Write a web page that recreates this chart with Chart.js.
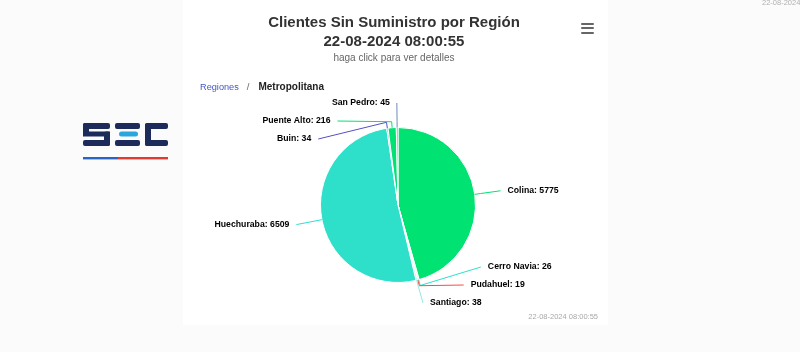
<!DOCTYPE html>
<html>
<head>
<meta charset="utf-8">
<script src="https://cdn.jsdelivr.net/npm/chart.js@4.4.1/dist/chart.umd.min.js"></script>
<style>
  html, body { margin:0; padding:0; }
  body { width:800px; height:352px; background:#fbfbfb; position:relative; overflow:hidden; font-family:"Liberation Sans", Arial, sans-serif; }
  #box { position:absolute; left:183px; top:0; width:425px; height:325px; background:#fff; }
  #c { position:absolute; left:0; top:0; }
  .t { position:absolute; white-space:nowrap; }
  #title { left:183px; width:422px; top:12px; text-align:center; font-weight:bold; font-size:15px; line-height:19px; color:#333; }
  #subtitle { left:183px; width:422px; top:52px; text-align:center; font-size:10px; line-height:12px; color:#666; }
  #crumbs { left:200px; top:81px; font-size:10px; line-height:12px; }
  #crumbs .a { color:#4257c9; font-size:9.2px; }
  #crumbs .s { color:#666; margin:0 9px 0 8px; font-size:9.5px; }
  #crumbs .b { color:#222; font-weight:bold; }
  .bar { position:absolute; left:581px; width:13px; height:2.4px; background:#666; border-radius:1px; }
  #stamp { left:450px; width:148px; text-align:right; top:312px; font-size:7.5px; line-height:10px; color:#a8a8a8; }
  #stamp2 { left:762px; top:-2px; font-size:7.5px; line-height:10px; color:#b0b0b0; }
  #logo { position:absolute; left:82px; top:122px; }
</style>
</head>
<body>
<div id="box"></div>
<svg id="logo" width="88" height="40" viewBox="0 0 88 40">
  <!-- S -->
  <rect x="1" y="1" width="27" height="6" rx="2" fill="#1d2b5a"/>
  <rect x="1" y="1" width="6" height="13" rx="2" fill="#1d2b5a"/>
  <rect x="1" y="9.5" width="27" height="5" fill="#1d2b5a"/>
  <rect x="22" y="9.5" width="6" height="14.5" rx="2" fill="#1d2b5a"/>
  <rect x="1" y="18" width="27" height="6" rx="2" fill="#1d2b5a"/>
  <!-- E -->
  <rect x="33" y="1" width="25" height="6" rx="2" fill="#1d2b5a"/>
  <rect x="37" y="9.5" width="19" height="5" rx="2.5" fill="#2aa6dd"/>
  <rect x="33" y="18" width="25" height="6" rx="2" fill="#1d2b5a"/>
  <!-- C -->
  <rect x="63" y="1" width="23" height="6" rx="2" fill="#1d2b5a"/>
  <rect x="63" y="1" width="6" height="23" rx="2.5" fill="#1d2b5a"/>
  <rect x="63" y="18" width="23" height="6" rx="2" fill="#1d2b5a"/>
  <!-- underline -->
  <rect x="1" y="35" width="35" height="2.4" fill="#2c63c7"/>
  <rect x="36" y="35" width="50" height="2.4" fill="#e23b32"/>
</svg>
<canvas id="c" width="800" height="352"></canvas>
<div class="t" id="title">Clientes Sin Suministro por Región<br>22-08-2024 08:00:55</div>
<div class="t" id="subtitle">haga click para ver detalles</div>
<div class="t" id="crumbs"><span class="a">Regiones</span><span class="s">/</span><span class="b">Metropolitana</span></div>
<div class="bar" style="top:22.5px"></div>
<div class="bar" style="top:27px"></div>
<div class="bar" style="top:31.5px"></div>
<div class="t" id="stamp">22-08-2024 08:00:55</div>
<div class="t" id="stamp2">22-08-2024</div>
<script>
const comunas = ["Colina", "Cerro Navia", "Pudahuel", "Santiago", "Huechuraba", "Buin", "Puente Alto", "San Pedro"];
const clientes = [5775, 26, 19, 38, 6509, 34, 216, 45];
const colores = ["#00e272", "#2ee0ca", "#fa4b42", "#91e8e1", "#2ee0ca", "#544fc5", "#00e272", "#6b8abc"];

const pieLabels = {
  id: 'pieLabels',
  afterDatasetsDraw(chart, args, opts) {
    const ctx = chart.ctx;
    const meta = chart.getDatasetMeta(0);
    const ds = chart.data.datasets[0];
    const items = meta.data.map((arc, i) => {
      const p = arc.getProps(['x', 'y', 'startAngle', 'endAngle', 'outerRadius'], true);
      const mid = (p.startAngle + p.endAngle) / 2;
      const R = p.outerRadius + opts.distance;
      return { i, cx: p.x, cy: p.y, r: p.outerRadius, mid, R,
        nx: p.x + Math.cos(mid) * R, ny: p.y + Math.sin(mid) * R,
        left: Math.cos(mid) < 0 };
    });
    [true, false].forEach(side => {
      const list = items.filter(it => it.left === side).sort((a, b) => a.ny - b.ny);
      list.forEach((it, k) => {
        let y = Math.max(opts.minY, Math.min(opts.maxY, it.ny));
        if (k > 0) y = Math.max(y, list[k - 1].y + opts.gap);
        it.y = y;
      });
      for (let k = list.length - 1; k >= 0; k--) {
        let lim = k === list.length - 1 ? opts.maxY : list[k + 1].y - opts.gap;
        list[k].y = Math.min(list[k].y, lim);
      }
      list.forEach(it => {
        const dy = it.y - it.cy;
        if (Math.abs(it.y - it.ny) < 6) it.x = it.nx;
        else it.x = it.cx + (it.left ? -1 : 1) * Math.sqrt(Math.max(0, it.R * it.R - dy * dy));
      });
    });
    ctx.save();
    items.forEach(it => {
      const tx = it.cx + Math.cos(it.mid) * it.r;
      const ty = it.cy + Math.sin(it.mid) * it.r;
      const bx = it.cx + Math.cos(it.mid) * (it.r + opts.breakOffset);
      const by = it.cy + Math.sin(it.mid) * (it.r + opts.breakOffset);
      ctx.strokeStyle = ds.backgroundColor[it.i];
      ctx.lineWidth = 1;
      ctx.beginPath();
      ctx.moveTo(it.x, it.y);
      ctx.lineTo(bx, by);
      ctx.lineTo(tx, ty);
      ctx.stroke();
      ctx.font = opts.font;
      ctx.fillStyle = '#000';
      ctx.textBaseline = 'middle';
      ctx.textAlign = it.left ? 'right' : 'left';
      const text = chart.data.labels[it.i] + ': ' + ds.data[it.i];
      ctx.fillText(text, it.x + (it.left ? -opts.padding : opts.padding), it.y);
    });
    ctx.restore();
  }
};

new Chart(document.getElementById('c'), {
  type: 'pie',
  data: {
    labels: comunas,
    datasets: [{
      data: clientes,
      backgroundColor: colores,
      borderColor: '#ffffff',
      borderWidth: 1,
      hoverOffset: 0,
      hoverBorderWidth: 1
    }]
  },
  options: {
    responsive: false,
    animation: false,
    events: [],
    layout: { padding: { left: 320, right: 324, top: 127, bottom: 69 } },
    plugins: {
      legend: { display: false },
      tooltip: { enabled: false },
      pieLabels: { distance: 26, gap: 18, minY: 103, maxY: 303, padding: 7, breakOffset: 6,
                   font: 'bold 8.7px "Liberation Sans", Arial, sans-serif' }
    }
  },
  plugins: [pieLabels]
});
</script>
</body>
</html>
